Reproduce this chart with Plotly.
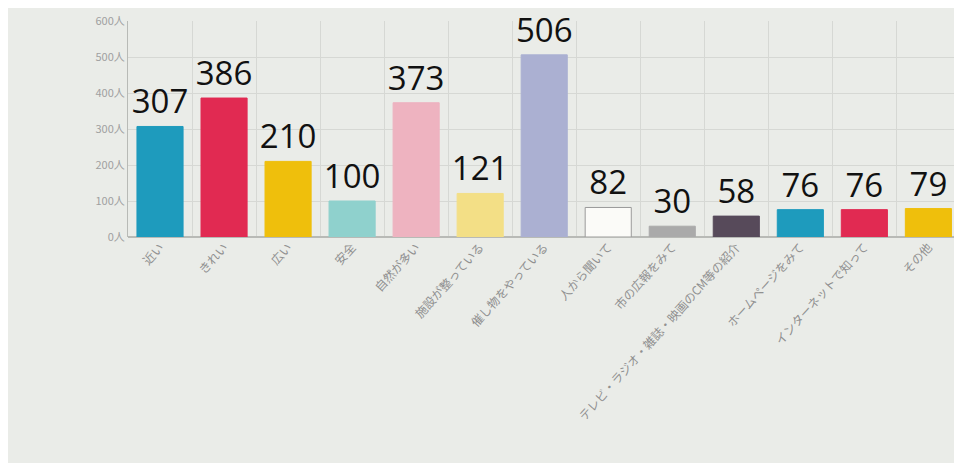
import plotly.graph_objects as go

categories = ["近い", "きれい", "広い", "安全", "自然が多い", "施設が整っている",
              "催し物をやっている", "人から聞いて", "市の広報をみて",
              "テレビ・ラジオ・雑誌・映画のCM等の紹介", "ホームページをみて",
              "インターネットで知って", "その他"]
values = [307, 386, 210, 100, 373, 121, 506, 82, 30, 58, 76, 76, 79]
colors = ["#1e9bbd", "#e12a52", "#efbf0c", "#8fd1cd", "#eeb3c0", "#f3df86",
          "#abb0d2", "#fbfbf8", "#aaaaaa", "#574a5a", "#1e9bbd", "#e12a52", "#efbf0c"]
line_colors = ["#1e9bbd", "#e12a52", "#efbf0c", "#8fd1cd", "#eeb3c0", "#f3df86",
               "#abb0d2", "#9a9a9a", "#aaaaaa", "#574a5a", "#1e9bbd", "#e12a52", "#efbf0c"]
y_ticks = [0, 100, 200, 300, 400, 500, 600]
y_tick_labels = ["0人", "100人", "200人", "300人", "400人", "500人", "600人"]

fig = go.Figure(go.Bar(
    x=categories, y=values,
    marker=dict(color=colors, line=dict(color=line_colors, width=1)),
    width=0.72,
    text=[str(v) for v in values],
    textposition="outside",
    constraintext="none",
    textfont=dict(family="Open Sans", size=33, color="#111111"),
    cliponaxis=False,
))

bg = "#eaece8"
fig.update_layout(
    width=946, height=455,
    margin=dict(l=120, r=0, t=13, b=226),
    paper_bgcolor=bg, plot_bgcolor=bg,
    showlegend=False,
    font=dict(family="Noto Sans CJK JP"),
)
fig.update_xaxes(
    range=[-0.5, 12.4],
    tickangle=-48,
    tickfont=dict(size=12, color="#909090", family="Noto Sans CJK JP"),
    showgrid=True, gridcolor="#d6d8d4", tickson="boundaries",
    showline=False, ticks="",
)
fig.update_yaxes(
    range=[0, 600],
    tickvals=y_ticks,
    ticktext=y_tick_labels,
    tickfont=dict(size=11, color="#a0a0a0", family="Noto Sans CJK JP"),
    showgrid=True, gridcolor="#d6d8d4",
    showline=True, linecolor="#b8bab6", linewidth=1,
    zeroline=True, zerolinecolor="#b8bab6",
)

fig.write_html("out.html")
